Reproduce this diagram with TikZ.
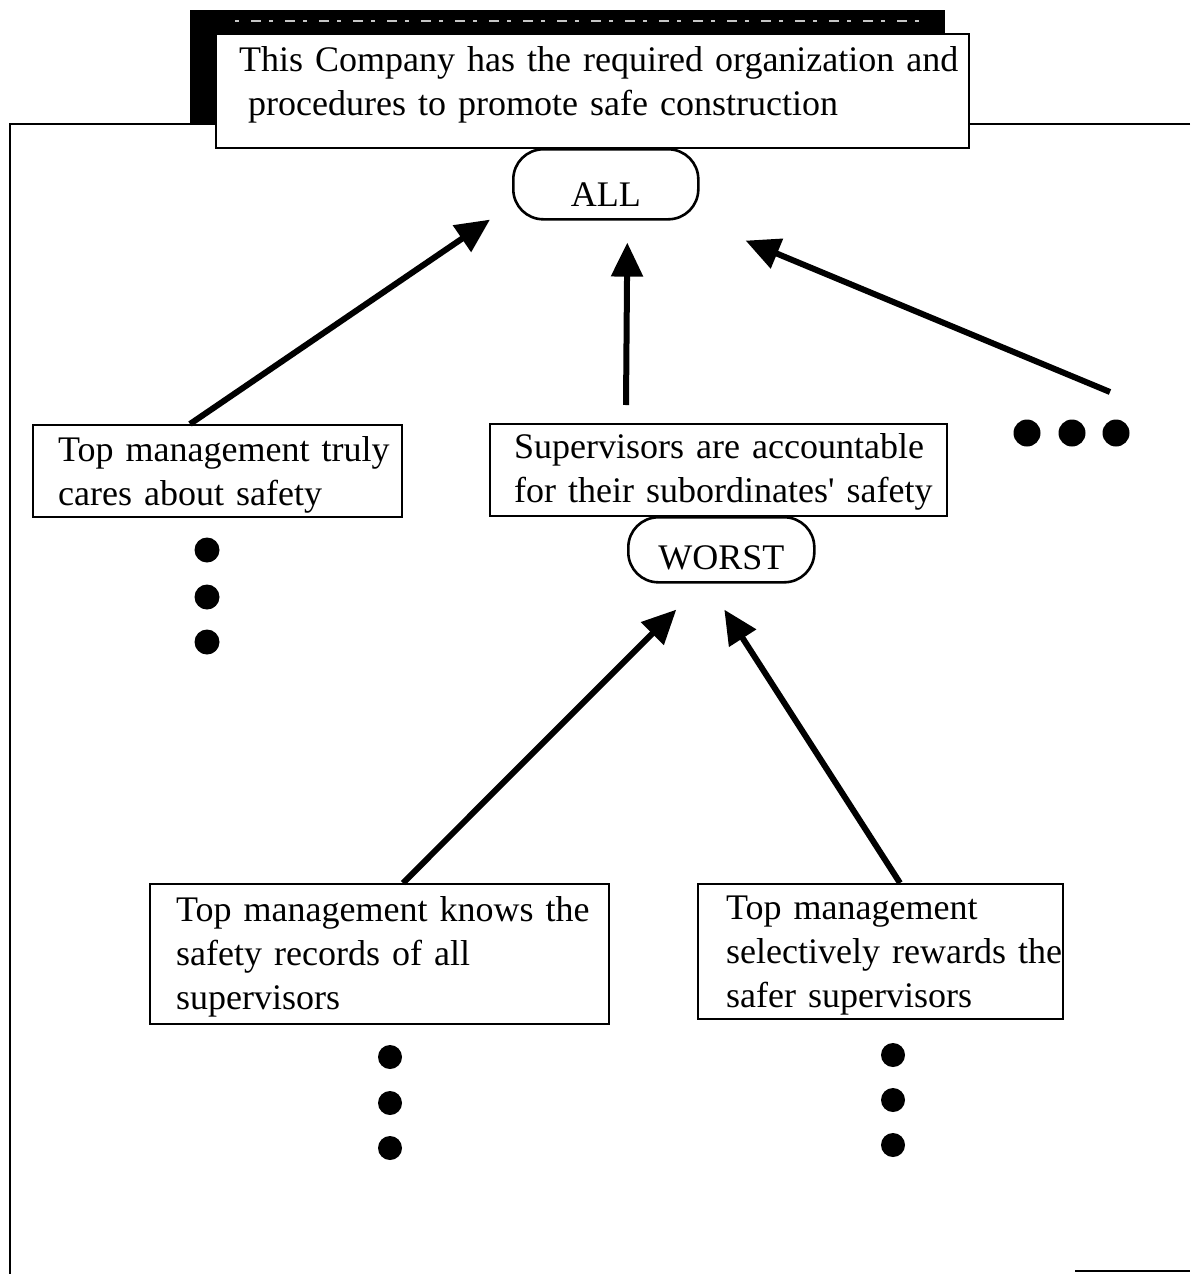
\documentclass[tikz,border=0pt]{standalone}
\usepackage{fontspec}
\setmainfont{Liberation Serif}
\usetikzlibrary{arrows.meta,calc}
\begin{document}
\begin{tikzpicture}[x=0.5pt,y=-0.5pt,
  box/.style={draw, line width=1.2pt, fill=white, align=left, inner ysep=0pt,
    anchor=north west, font=\fontsize{18}{22}\selectfont},
  pill/.style={draw, line width=1.3pt, fill=white, rounded corners=15pt, inner sep=0pt,
    anchor=north west, font=\fontsize{18}{22}\selectfont, text depth=0pt},
  dot/.style={circle, fill=black, inner sep=0pt, minimum size=12.5pt},
  arr/.style={line width=3pt, -{Triangle[length=17pt,width=15.5pt]}}]
\useasboundingbox (0,0) rectangle (1190,1274);
% outer frame (partly hidden)
\draw[line width=1.2pt] (1190,124) -- (10,124) -- (10,1274);
\draw[line width=1.2pt] (1075,1271) -- (1190,1271);
% dark tab behind the title box
\fill[black] (190,10) rectangle (945,124);
\draw[gray!45, line width=0.6pt, dash pattern=on 2pt off 6pt on 5pt off 4pt] (235,21) -- (930,21);
% title box
\node[box, text width=353.5pt, inner xsep=11.5pt, text height=18.5pt, text depth=38.5pt]
  (T) at (215,33) {\mbox{This Company has the required organization and}\\
  \mbox{\hspace*{4.5pt}procedures to promote safe construction}};
\node[pill, minimum width=92.5pt, minimum height=35pt, text height=22pt] (ALL) at (512,148) {ALL};
% second level
\node[box, text width=159.5pt, inner xsep=12.5pt, text height=18pt, text depth=28pt]
  (L) at (32,424) {\mbox{Top management truly}\\ \mbox{cares about safety}};
\node[box, text width=204.5pt, inner xsep=12pt, text height=17pt, text depth=29pt]
  (M) at (489,423) {\mbox{Supervisors are accountable}\\ \mbox{for their subordinates\textquotesingle\ safety}};
\node[pill, minimum width=93pt, minimum height=32.5pt, text height=20pt] (WORST) at (627,516) {WORST};
% continuation dots
\node[dot, minimum size=13.5pt] (dr1) at (1027,433) {};
\node[dot, minimum size=13.5pt] (dr2) at (1072,433) {};
\node[dot, minimum size=13.5pt] (dr3) at (1116,433) {};
\node[dot] (dl1) at (207,550) {};
\node[dot] (dl2) at (207,597) {};
\node[dot] (dl3) at (207,642) {};
% third level
\node[box, text width=203.5pt, inner xsep=13pt, text height=18.5pt, text depth=51.5pt]
  (BL) at (149,883) {\mbox{Top management knows the}\\ \mbox{safety records of all}\\ \mbox{supervisors}};
\node[box, text width=154.5pt, inner xsep=14pt, text height=17.5pt, text depth=50pt]
  (BR) at (697,883) {\mbox{Top management}\\ \mbox{selectively rewards the}\\ \mbox{safer supervisors}};
\node[dot, minimum size=12pt] (db1) at (390,1057) {};
\node[dot, minimum size=12pt] (db2) at (390,1103) {};
\node[dot, minimum size=12pt] (db3) at (390,1148) {};
\node[dot, minimum size=12pt] (de1) at (893,1055) {};
\node[dot, minimum size=12pt] (de2) at (893,1100) {};
\node[dot, minimum size=12pt] (de3) at (893,1145) {};
% arrows
\draw[arr] ($(L.north west)+(158,0)$) -- ($(ALL.south west)+(-22,-1)$);
\draw[arr] ($(M.north west)+(137,-18)$) -- ($(ALL.south)+(21.5,22)$);
\draw[arr] ($(dr3)+(-6,-41)$) -- ($(ALL.south east)+(46,20)$);
\draw[arr] ($(BL.north west)+(254,0)$) -- ($(WORST.south)+(-45,26)$);
\draw[arr] ($(BR.north west)+(203,0)$) -- ($(WORST.south)+(3,26)$);
\end{tikzpicture}
\end{document}
